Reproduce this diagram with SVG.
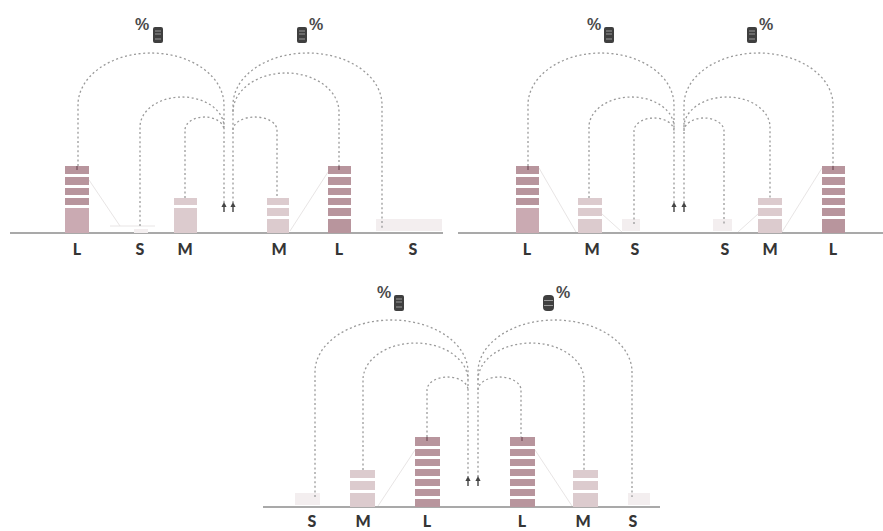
<svg xmlns="http://www.w3.org/2000/svg" width="883" height="531" viewBox="0 0 883 531">
  <defs>
    <style>
      .base { stroke: #8c8c8c; stroke-width: 1.6; }
      .arc { fill: none; stroke: #9a9a9a; stroke-width: 1.3; stroke-dasharray: 2 2.6; }
      .ghost { stroke: #e8e5e5; stroke-width: 1; fill: none; }
      .lab { font-family: Lato, "Noto Sans", sans-serif; font-weight: 900; font-size: 16px; fill: #353535; text-anchor: middle; }
      .pct { font-family: "Liberation Sans", Arial, sans-serif; font-weight: bold; font-size: 16px; fill: #4a4a4a; }
      .lbar { fill: #b8959d; }
      .lbar2 { fill: #caaab2; }
      .mbar { fill: #dccbce; }
      .sbar { fill: #f3eeef; }
      .gap { fill: #ffffff; }
      .tip { fill: #8f6a74; }
      .db { fill: #3f3f3f; }
      .dbl { stroke: #9a9a9a; stroke-width: 1; }
      .arr { fill: #444; }
    </style>
    <!-- small up-pointing arrow used at the centre of each group of arcs -->
    <g id="uparrow">
      <path class="arr" d="M0 -4 L2.6 1 L-2.6 1 Z"/>
      <rect class="arr" x="-0.7" y="0" width="1.4" height="6"/>
    </g>
    <!-- server icon -->
    <g id="server">
      <rect class="db" x="0" y="0" width="10" height="16" rx="2"/>
      <line class="dbl" x1="2" y1="4" x2="8" y2="4"/>
      <line class="dbl" x1="2" y1="7" x2="8" y2="7"/>
      <line class="dbl" x1="2" y1="12" x2="8" y2="12"/>
    </g>
    <!-- stacked database icon -->
    <g id="cylinder">
      <rect class="db" x="0" y="0" width="11" height="16" rx="4"/>
      <line class="dbl" x1="1" y1="5.5" x2="10" y2="5.5"/>
      <line class="dbl" x1="1" y1="10.5" x2="10" y2="10.5"/>
    </g>
  </defs>

  <rect width="883" height="531" fill="#ffffff"/>

  <!-- ================= top-left group ================= -->
  <g id="panel-1">
    <line class="base" x1="10" y1="233" x2="443" y2="233"/>
    <path class="ghost" d="M89 180 L120 226 M328 172 L290 231 M110 226 L155 226"/>

    <g id="p1-L1">
      <rect class="lbar2" x="65" y="166" width="24" height="67"/>
      <rect class="lbar" x="65" y="166" width="24" height="40"/>
      <rect class="gap" x="65" y="174" width="24" height="3"/>
      <rect class="gap" x="65" y="185" width="24" height="3"/>
      <rect class="gap" x="65" y="195" width="24" height="3"/>
      <rect class="gap" x="65" y="205" width="24" height="3"/>
      <rect class="tip" x="76" y="166" width="2" height="4"/>
    </g>
    <g id="p1-S1"><rect class="sbar" x="134" y="229" width="14" height="4"/></g>
    <g id="p1-M1">
      <rect class="mbar" x="174" y="198" width="23" height="35"/>
      <rect class="gap" x="174" y="205" width="23" height="3"/>
    </g>
    <g id="p1-M2">
      <rect class="mbar" x="267" y="198" width="22" height="35"/>
      <rect class="gap" x="267" y="205" width="22" height="3"/>
      <rect class="gap" x="267" y="216" width="22" height="3"/>
    </g>
    <g id="p1-L2">
      <rect class="lbar" x="328" y="166" width="23" height="67"/>
      <rect class="gap" x="328" y="174" width="23" height="3"/>
      <rect class="gap" x="328" y="185" width="23" height="3"/>
      <rect class="gap" x="328" y="195" width="23" height="3"/>
      <rect class="gap" x="328" y="205" width="23" height="3"/>
      <rect class="gap" x="328" y="216" width="23" height="3"/>
      <rect class="tip" x="338" y="166" width="2" height="4"/>
    </g>
    <g id="p1-S2"><rect class="sbar" x="376" y="219" width="66" height="12"/></g>

    <g id="p1-connectors">
      <path class="arc" d="M78 166 V105 A73 52 0 0 1 224 105 V203"/>
      <path class="arc" d="M140 226 V127 A42 30 0 0 1 224 127"/>
      <path class="arc" d="M185 198 V130 A19.5 13 0 0 1 224 130"/>
      <path class="arc" d="M233 203 V105 A74.5 52 0 0 1 382 105 V228"/>
      <path class="arc" d="M233 112 A53 39 0 0 1 339 112 V166"/>
      <path class="arc" d="M233 130 A22 13 0 0 1 277 130 V198"/>
      <use href="#uparrow" x="224" y="206"/>
      <use href="#uparrow" x="233" y="206"/>
    </g>

    <g id="p1-icons">
      <text class="pct" x="135" y="30">%</text>
      <use href="#server" x="153" y="27"/>
      <use href="#server" x="297" y="27"/>
      <text class="pct" x="309" y="30">%</text>
    </g>

    <text class="lab" x="77" y="255">L</text>
    <text class="lab" x="140" y="255">S</text>
    <text class="lab" x="185" y="255">M</text>
    <text class="lab" x="279" y="255">M</text>
    <text class="lab" x="339" y="255">L</text>
    <text class="lab" x="413" y="255">S</text>
  </g>

  <!-- ================= top-right group ================= -->
  <g id="panel-2">
    <line class="base" x1="458" y1="233" x2="883" y2="233"/>
    <path class="ghost" d="M539 168 L576 232 M602 214 L622 232 M822 168 L782 232 M758 214 L738 232"/>

    <g id="p2-L1">
      <rect class="lbar2" x="516" y="166" width="23" height="67"/>
      <rect class="lbar" x="516" y="166" width="23" height="40"/>
      <rect class="gap" x="516" y="174" width="23" height="3"/>
      <rect class="gap" x="516" y="185" width="23" height="3"/>
      <rect class="gap" x="516" y="195" width="23" height="3"/>
      <rect class="gap" x="516" y="205" width="23" height="3"/>
      <rect class="tip" x="527" y="166" width="2" height="4"/>
    </g>
    <g id="p2-M1">
      <rect class="mbar" x="578" y="198" width="24" height="35"/>
      <rect class="gap" x="578" y="205" width="24" height="3"/>
      <rect class="gap" x="578" y="216" width="24" height="3"/>
    </g>
    <g id="p2-S1"><rect class="sbar" x="622" y="219" width="18" height="12"/></g>
    <g id="p2-S2"><rect class="sbar" x="713" y="219" width="19" height="12"/></g>
    <g id="p2-M2">
      <rect class="mbar" x="758" y="198" width="24" height="35"/>
      <rect class="gap" x="758" y="205" width="24" height="3"/>
      <rect class="gap" x="758" y="216" width="24" height="3"/>
    </g>
    <g id="p2-L2">
      <rect class="lbar" x="822" y="166" width="23" height="67"/>
      <rect class="gap" x="822" y="174" width="23" height="3"/>
      <rect class="gap" x="822" y="185" width="23" height="3"/>
      <rect class="gap" x="822" y="195" width="23" height="3"/>
      <rect class="gap" x="822" y="205" width="23" height="3"/>
      <rect class="gap" x="822" y="216" width="23" height="3"/>
      <rect class="tip" x="832" y="166" width="2" height="4"/>
    </g>

    <g id="p2-connectors">
      <path class="arc" d="M528 166 V105 A73 52 0 0 1 674 105 V203"/>
      <path class="arc" d="M589 198 V127 A42.5 30 0 0 1 674 127"/>
      <path class="arc" d="M634 224 V131 A20 13 0 0 1 674 131"/>
      <path class="arc" d="M684 203 V105 A74.5 52 0 0 1 833 105 V166"/>
      <path class="arc" d="M684 127 A43 30 0 0 1 770 127 V198"/>
      <path class="arc" d="M684 131 A20 13 0 0 1 724 131 V224"/>
      <use href="#uparrow" x="674" y="206"/>
      <use href="#uparrow" x="684" y="206"/>
    </g>

    <g id="p2-icons">
      <text class="pct" x="587" y="30">%</text>
      <use href="#server" x="604" y="27"/>
      <use href="#server" x="747" y="27"/>
      <text class="pct" x="759" y="30">%</text>
    </g>

    <text class="lab" x="527" y="255">L</text>
    <text class="lab" x="592" y="255">M</text>
    <text class="lab" x="635" y="255">S</text>
    <text class="lab" x="725" y="255">S</text>
    <text class="lab" x="770" y="255">M</text>
    <text class="lab" x="833" y="255">L</text>
  </g>

  <!-- ================= bottom group ================= -->
  <g id="panel-3">
    <line class="base" x1="263" y1="507" x2="660" y2="507"/>
    <path class="ghost" d="M415 450 L378 506 M375 484 L355 506 M535 450 L572 506 M573 484 L593 506"/>

    <g id="p3-S1"><rect class="sbar" x="295" y="493" width="25" height="12"/></g>
    <g id="p3-M1">
      <rect class="mbar" x="350" y="470" width="25" height="37"/>
      <rect class="gap" x="350" y="478" width="25" height="3"/>
      <rect class="gap" x="350" y="490" width="25" height="3"/>
    </g>
    <g id="p3-L1">
      <rect class="lbar" x="415" y="437" width="25" height="70"/>
      <rect class="gap" x="415" y="446" width="25" height="3"/>
      <rect class="gap" x="415" y="456" width="25" height="3"/>
      <rect class="gap" x="415" y="466" width="25" height="3"/>
      <rect class="gap" x="415" y="476" width="25" height="3"/>
      <rect class="gap" x="415" y="486" width="25" height="3"/>
      <rect class="gap" x="415" y="496" width="25" height="3"/>
      <rect class="tip" x="426" y="437" width="2" height="4"/>
    </g>
    <g id="p3-L2">
      <rect class="lbar" x="510" y="437" width="25" height="70"/>
      <rect class="gap" x="510" y="446" width="25" height="3"/>
      <rect class="gap" x="510" y="456" width="25" height="3"/>
      <rect class="gap" x="510" y="466" width="25" height="3"/>
      <rect class="gap" x="510" y="476" width="25" height="3"/>
      <rect class="gap" x="510" y="486" width="25" height="3"/>
      <rect class="gap" x="510" y="496" width="25" height="3"/>
      <rect class="tip" x="521" y="437" width="2" height="4"/>
    </g>
    <g id="p3-M2">
      <rect class="mbar" x="573" y="470" width="25" height="37"/>
      <rect class="gap" x="573" y="478" width="25" height="3"/>
      <rect class="gap" x="573" y="490" width="25" height="3"/>
    </g>
    <g id="p3-S2"><rect class="sbar" x="628" y="493" width="22" height="12"/></g>

    <g id="p3-connectors">
      <path class="arc" d="M315 497 V372 A76.5 52 0 0 1 468 372 V477"/>
      <path class="arc" d="M363 470 V380 A52.5 37 0 0 1 468 380"/>
      <path class="arc" d="M427 437 V390 A20.5 13 0 0 1 468 390"/>
      <path class="arc" d="M478 477 V372 A77 52 0 0 1 632 372 V497"/>
      <path class="arc" d="M478 380 A53 37 0 0 1 584 380 V470"/>
      <path class="arc" d="M478 390 A21.5 13 0 0 1 521 390 V437"/>
      <use href="#uparrow" x="468" y="480"/>
      <use href="#uparrow" x="478" y="480"/>
    </g>

    <g id="p3-icons">
      <text class="pct" x="377" y="298">%</text>
      <use href="#server" x="394" y="295"/>
      <use href="#cylinder" x="543" y="295"/>
      <text class="pct" x="556" y="298">%</text>
    </g>

    <text class="lab" x="312" y="527">S</text>
    <text class="lab" x="363" y="527">M</text>
    <text class="lab" x="427" y="527">L</text>
    <text class="lab" x="522" y="527">L</text>
    <text class="lab" x="583" y="527">M</text>
    <text class="lab" x="633" y="527">S</text>
  </g>
</svg>
